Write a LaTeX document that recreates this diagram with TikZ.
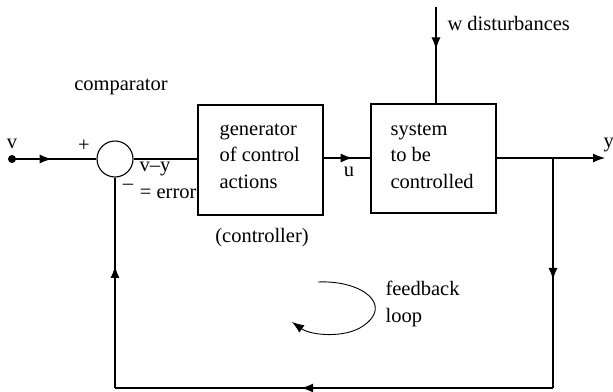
\documentclass[tikz,border=0pt]{standalone}
\usepackage{fontspec}
\setmainfont{Liberation Serif}
\usetikzlibrary{arrows.meta,decorations.markings}
\begin{document}
\begin{tikzpicture}[x=1pt,y=-1pt,
  line width=1.1pt,
  font=\fontsize{20.5}{26.5}\selectfont,
  tip/.tip={Latex[length=12pt,width=9pt]},
  midarrow/.style={postaction={decorate},decoration={markings,mark=at position #1 with {\arrow{tip}}}},
  blockbox/.style={draw,minimum width=125pt,align=left,inner sep=0pt},
  lbl/.style={inner sep=0pt}]
\useasboundingbox (0,0) rectangle (613,391);
% nodes
\node[circle,draw,minimum size=36pt,inner sep=0pt] (cmp) at (115,159) {};
\node[blockbox,minimum height=110pt] (gen) at (260.5,160) {};
\node[lbl,anchor=north west,align=left] (gent) at (219,123) {generator\\of control\\actions};
\node[blockbox,minimum height=109pt] (sys) at (433.5,158.5) {};
\node[lbl,anchor=north west,align=left] (syst) at (390,123) {system\\to be\\controlled};
\fill (12,159) circle (4pt);
\coordinate (vin) at (12,159);
\coordinate (wtop) at (436,7);
\coordinate (yout) at (605,158);
\coordinate (br) at (553,158);
\coordinate (bbr) at (553,388);
\coordinate (bbl) at (115,388);
% labels
\node[lbl] (lv) at (12,144) {v};
\node[lbl] (lcomp) at (121,87) {comparator};
\node[lbl] (lplus) at (84,146) {+};
\node[lbl] (lvy) at (155,169) {v–y};
\node[lbl] (lminus) at (128,187) {–};
\node[lbl,anchor=east] (lerr) at (197,194) {= error};
\node[lbl] (lu) at (349,172) {u};
\node[lbl] (lctrl) at (262,238) {(controller)};
\node[lbl,anchor=west] (lw) at (447,23) {w disturbances};
\node[lbl,anchor=west] (ly) at (603,145) {y};
\node[lbl,anchor=north west,align=left] (lfb) at (385,281) {feedback\\loop};
% connectors
\draw[midarrow=0.47] (vin) -- (cmp.west);
\draw (cmp.east) -- (gen.west |- cmp.east);
\draw[midarrow=0.62] (gen.east |- 0,158) -- (sys.west |- 0,158);
\draw[midarrow=0.44] (wtop) -- (sys.north -| wtop);
\draw[-tip] (sys.east |- yout) -- (yout);
\draw[midarrow=0.53] (br) -- (bbr);
\draw[midarrow=0.575] (bbr) -- (bbl);
\draw[midarrow=0.58] (bbl) -- (cmp.south);
% feedback loop symbol
\coordinate (fa) at (318,282);
\coordinate (fb) at (292,322);
\draw[line width=0.9pt,-tip] (fa) .. controls (362,280) and (394,305) .. (363,326) .. controls (346,338) and (312,336) .. (fb);
\end{tikzpicture}
\end{document}
